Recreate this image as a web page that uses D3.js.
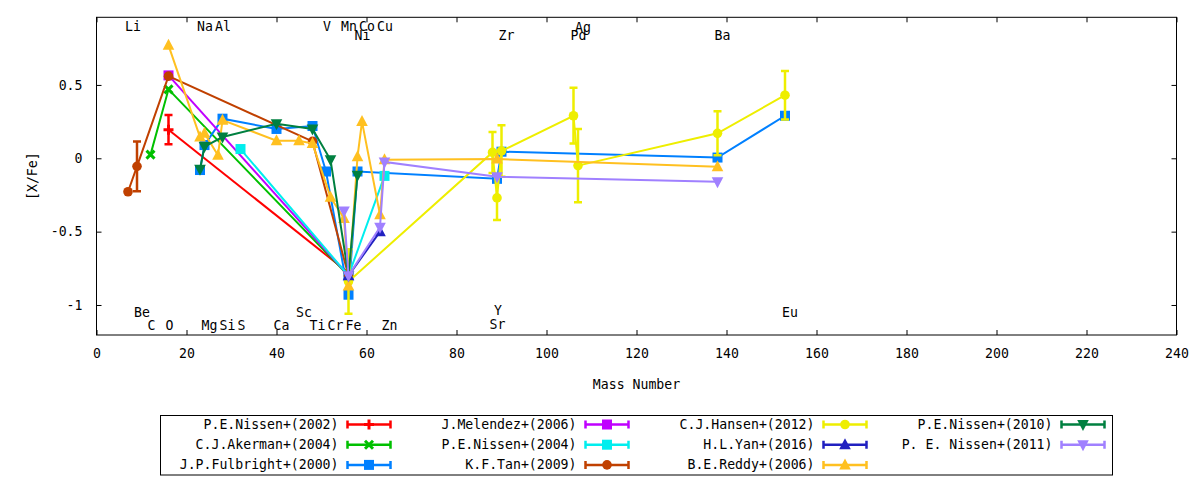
<!DOCTYPE html>
<html>
<head>
<meta charset="utf-8">
<script src="https://cdn.jsdelivr.net/npm/d3@7"></script>
<style>
  body { margin: 0; background: #fff; }
  text { font-family: "DejaVu Sans Mono", monospace; font-size: 13.2px; fill: #000; }
</style>
</head>
<body>
<div id="chart"></div>
<script>
// each point: [mass number, [X/Fe], error]
const nissen2002 = [[16, 0.195, 0.10], [56, -0.78, 0]];
const akerman2004 = [[12, 0.025, 0], [16, 0.47, 0], [56, -0.80, 0]];
const fulbright2000 = [[23, -0.08, 0], [24, 0.09, 0], [28, 0.27, 0], [40, 0.20, 0], [48, 0.22, 0],
    [51, -0.09, 0], [56, -0.93, 0], [58, -0.09, 0], [89, -0.14, 0], [90, 0.045, 0], [138, 0.005, 0], [153, 0.29, 0]];
const melendez2006 = [[16, 0.565, 0], [56, -0.80, 0]];
const nissen2004 = [[32, 0.063, 0], [56, -0.80, 0], [64, -0.12, 0]];
const tan2009 = [[7, -0.228, 0], [9, -0.055, 0.17], [16, 0.56, 0], [48, 0.115, 0], [56, -0.80, 0]];
const hansen2012 = [[56, -0.84, 0.22], [88, 0.04, 0.14], [89, -0.27, 0.15], [90, 0.05, 0.175],
    [106, 0.29, 0.19], [107, -0.05, 0.25], [138, 0.17, 0.15], [153, 0.43, 0.165]];
const yan2016 = [[56, -0.80, 0], [63, -0.50, 0]];
const reddy2006 = [[16, 0.77, 0], [23, 0.145, 0], [24, 0.17, 0], [27, 0.02, 0], [28, 0.26, 0], [40, 0.12, 0],
    [45, 0.12, 0], [48, 0.10, 0], [52, -0.265, 0], [55, -0.41, 0], [56, -0.87, 0], [58, 0.01, 0],
    [59, 0.25, 0], [63, -0.385, 0], [64, -0.01, 0], [89, -0.005, 0], [138, -0.057, 0]];
const nissen2010 = [[23, -0.075, 0], [24, 0.08, 0], [28, 0.145, 0], [40, 0.235, 0], [48, 0.20, 0],
    [52, -0.01, 0], [56, -0.80, 0], [58, -0.115, 0]];
const nissen2011 = [[55, -0.36, 0], [56, -0.80, 0], [63, -0.47, 0], [64, -0.025, 0], [89, -0.125, 0], [138, -0.16, 0]];

const seriesNames = ["P.E.Nissen+(2002)", "C.J.Akerman+(2004)", "J.P.Fulbright+(2000)", "J.Melendez+(2006)",
    "P.E.Nissen+(2004)", "K.F.Tan+(2009)", "C.J.Hansen+(2012)", "H.L.Yan+(2016)", "B.E.Reddy+(2006)",
    "P.E.Nissen+(2010)", "P. E. Nissen+(2011)"];
const seriesData = [nissen2002, akerman2004, fulbright2000, melendez2006, nissen2004, tan2009,
    hansen2012, yan2016, reddy2006, nissen2010, nissen2011];

// element labels: [symbol, mass, level]
const elementLabels = [
    ["Li", 7, 0.90], ["Na", 23, 0.90], ["Al", 27, 0.90], ["V", 51, 0.90], ["Mn", 55, 0.90],
    ["Co", 59, 0.90], ["Cu", 63, 0.90], ["Ag", 107, 0.89],
    ["Ni", 58, 0.835], ["Zr", 90, 0.835], ["Pd", 106, 0.84], ["Ba", 138, 0.835],
    ["Be", 9, -1.05], ["Sc", 45, -1.05], ["Y", 89, -1.04], ["Eu", 153, -1.05],
    ["C", 12, -1.14], ["O", 16, -1.14], ["Mg", 24, -1.14], ["Si", 28, -1.14], ["S", 32, -1.14],
    ["Ca", 40, -1.14], ["Ti", 48, -1.14], ["Cr", 52, -1.14], ["Fe", 56, -1.14], ["Zn", 64, -1.14],
    ["Sr", 88, -1.13]
];

const xTicks = d3.range(0, 241, 20);
const yTicks = [-1, -0.5, 0, 0.5];

// gnuplot classic line colours and point types
const colors = ["#ff0000", "#00c000", "#0080ff", "#c000ff", "#00eeee", "#c04000",
    "#eeee00", "#2020c0", "#ffc020", "#008040", "#a080ff"];
const symbols = ["plus", "cross", "square", "square", "square", "circle",
    "circle", "triangle", "triangle", "triangleDown", "triangleDown"];

const W = 1200, H = 480;
const plotLeft = 96.5, plotRight = 1176.5, plotTop = 17.3, plotBottom = 335;

const svg = d3.select("#chart").append("svg")
    .attr("width", W)
    .attr("height", H);

const x = d3.scaleLinear().domain([0, 240]).range([plotLeft, plotRight]);
const y = d3.scaleLinear().domain([-1.2045, 0.961]).range([plotBottom, plotTop]);

// axes with inward ticks, mirrored on top / right
const tickLen = 5;
svg.append("g")
    .attr("transform", `translate(0,${plotBottom})`)
    .call(d3.axisBottom(x).tickValues(xTicks).tickSizeInner(-tickLen).tickSizeOuter(0).tickPadding(14))
    .call(g => g.select(".domain").remove());
svg.append("g")
    .attr("transform", `translate(0,${plotTop})`)
    .call(d3.axisTop(x).tickValues(xTicks).tickSizeInner(-tickLen).tickSizeOuter(0).tickFormat(""))
    .call(g => g.select(".domain").remove());
svg.append("g")
    .attr("transform", `translate(${plotLeft},0)`)
    .call(d3.axisLeft(y).tickValues(yTicks).tickSizeInner(-tickLen).tickSizeOuter(0).tickPadding(14)
        .tickFormat(d => d === 0 ? "0" : String(d)))
    .call(g => g.select(".domain").remove());
svg.append("g")
    .attr("transform", `translate(${plotRight},0)`)
    .call(d3.axisRight(y).tickValues(yTicks).tickSizeInner(-tickLen).tickSizeOuter(0).tickFormat(""))
    .call(g => g.select(".domain").remove());

svg.selectAll(".tick line").attr("stroke", "#000");
svg.selectAll(".tick text")
    .style("font-family", '"DejaVu Sans Mono", monospace')
    .style("font-size", "13.2px")
    .attr("fill", "#000");

svg.append("rect")
    .attr("x", plotLeft).attr("y", plotTop)
    .attr("width", plotRight - plotLeft).attr("height", plotBottom - plotTop)
    .attr("fill", "none").attr("stroke", "#000").attr("stroke-width", 1);

// axis titles
svg.append("text")
    .attr("x", (plotLeft + plotRight) / 2).attr("y", 384)
    .attr("text-anchor", "middle").attr("dominant-baseline", "central")
    .text("Mass Number");
svg.append("text")
    .attr("transform", `translate(32,${(plotTop + plotBottom) / 2}) rotate(-90)`)
    .attr("text-anchor", "middle").attr("dominant-baseline", "central")
    .text("[X/Fe]");

// element labels
svg.append("g").selectAll("text")
    .data(elementLabels)
    .join("text")
    .attr("x", d => x(d[1]) - 3)
    .attr("y", d => y(d[2]))
    .attr("dominant-baseline", "central")
    .text(d => d[0]);

function drawSymbol(g, type, cx, cy, color) {
    if (type === "square") {
        g.append("rect").attr("x", cx - 5).attr("y", cy - 5).attr("width", 10).attr("height", 10).attr("fill", color);
    } else if (type === "circle") {
        g.append("circle").attr("cx", cx).attr("cy", cy).attr("r", 4.8).attr("fill", color);
    } else if (type === "triangle") {
        g.append("path").attr("d", `M${cx},${cy - 6.5}L${cx + 5.8},${cy + 4.5}L${cx - 5.8},${cy + 4.5}Z`).attr("fill", color);
    } else if (type === "triangleDown") {
        g.append("path").attr("d", `M${cx},${cy + 6.5}L${cx + 5.8},${cy - 4.5}L${cx - 5.8},${cy - 4.5}Z`).attr("fill", color);
    } else if (type === "cross") {
        g.append("path").attr("d", `M${cx - 4},${cy - 4}L${cx + 4},${cy + 4}M${cx - 4},${cy + 4}L${cx + 4},${cy - 4}`)
            .attr("stroke", color).attr("stroke-width", 3).attr("fill", "none");
    } else if (type === "plus") {
        g.append("path").attr("d", `M${cx - 5},${cy}L${cx + 5},${cy}M${cx},${cy - 5}L${cx},${cy + 5}`)
            .attr("stroke", color).attr("stroke-width", 3).attr("fill", "none");
    }
}

const line = d3.line().x(d => x(d[0])).y(d => y(d[1]));
const capHalf = 4;

seriesData.forEach((data, i) => {
    const g = svg.append("g");
    const color = colors[i];
    g.append("path")
        .attr("d", line(data))
        .attr("fill", "none")
        .attr("stroke", color)
        .attr("stroke-width", 2);
    data.filter(d => d[2] > 0).forEach(d => {
        const cx = x(d[0]), y0 = y(d[1] - d[2]), y1 = y(d[1] + d[2]);
        g.append("path")
            .attr("d", `M${cx},${y0}L${cx},${y1}M${cx - capHalf},${y0}L${cx + capHalf},${y0}M${cx - capHalf},${y1}L${cx + capHalf},${y1}`)
            .attr("stroke", color).attr("stroke-width", 2.5).attr("fill", "none");
    });
    data.forEach(d => drawSymbol(g, symbols[i], x(d[0]), y(d[1]), color));
});

// legend
const legend = svg.append("g");
legend.append("rect")
    .attr("x", 160.5).attr("y", 415.5)
    .attr("width", 952).attr("height", 59.5)
    .attr("fill", "none").attr("stroke", "#000").attr("stroke-width", 1);

const colRight = [338.5, 576.5, 814.5, 1052.5];
const rowY = [424.5, 444.7, 464.9];
seriesNames.forEach((name, i) => {
    const col = Math.floor(i / 3), row = i % 3;
    const tx = colRight[col], ty = rowY[row];
    const g = legend.append("g");
    g.append("text")
        .attr("x", tx).attr("y", ty)
        .attr("text-anchor", "end").attr("dominant-baseline", "central")
        .text(name);
    const x0 = tx + 9, x1 = tx + 52;
    g.append("path")
        .attr("d", `M${x0},${ty}L${x1},${ty}M${x0},${ty - capHalf}L${x0},${ty + capHalf}M${x1},${ty - capHalf}L${x1},${ty + capHalf}`)
        .attr("stroke", colors[i]).attr("stroke-width", 2.5).attr("fill", "none");
    drawSymbol(g, symbols[i], (x0 + x1) / 2, ty, colors[i]);
});
</script>
</body>
</html>
